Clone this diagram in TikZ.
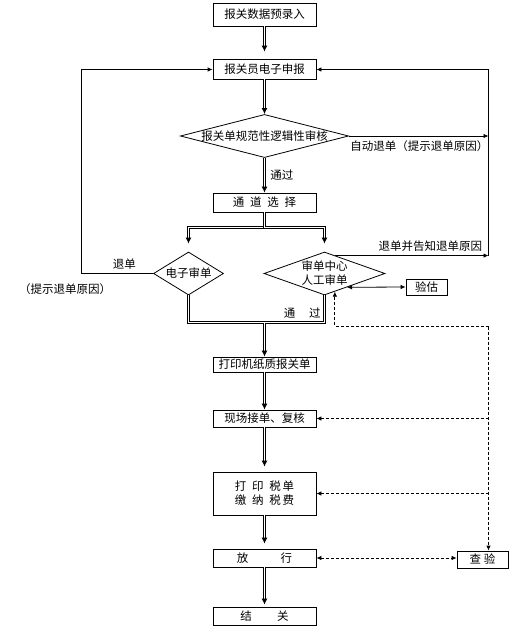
\documentclass[tikz,border=0pt]{standalone}
\usepackage{fontspec}
\newfontfamily\cjk{Noto Sans CJK SC}
\usetikzlibrary{arrows.meta,shapes.geometric,calc}

\begin{document}
\begin{tikzpicture}[x=1pt,y=-1pt,>={Latex[length=5pt,width=4.5pt]},
    every node/.style={font=\cjk\fontsize{11.5}{14}\selectfont},
    box/.style={draw,line width=0.8pt,minimum width=103pt,inner sep=0pt,align=center},
    dia/.style={draw,diamond,line width=0.8pt,inner sep=0pt,align=center},
    dbl/.style={double,line width=0.9pt,double distance=1.1pt},
    flow/.style={dbl,-{Latex[length=6pt,width=6pt]}},
    arr/.style={line width=0.8pt,->},
    dsh/.style={line width=0.8pt,dash pattern=on 3pt off 2pt,->}]
\useasboundingbox (0,0) rectangle (516,631);

% main column
\node[box,minimum height=23pt] (lr) at (264.5,14.5) {报关数据预录入};
\node[box,minimum height=20pt] (sb) at (264.5,69) {报关员电子申报};
\node[dia,aspect=3.9,minimum width=164pt,minimum height=42pt] (gf) at (264.5,136) {报关单规范性逻辑性审核};
\node[box,minimum height=19pt] (td) at (264.5,202.5) {通\enspace 道\enspace 选\enspace 择};
\node[dia,aspect=1.63,minimum width=70pt,minimum height=43pt] (dz) at (188.5,273.5) {电子审单};
\node[dia,aspect=2.8,minimum width=121pt,minimum height=43pt] (rg) at (324.5,273.5) {审单中心\\人工审单};
\node[draw,line width=0.8pt,minimum width=41pt,minimum height=16pt,inner sep=0pt] (yg) at (426.5,287) {验估};
\node[box,minimum height=15pt] (dy) at (264.5,364.5) {打印机纸质报关单};
\node[box,minimum height=17pt] (fh) at (264.5,418.5) {现场接单、复核};
\node[box,minimum height=43pt] (js) at (264.5,493.5) {打\enspace 印\enspace 税\,单\\缴\enspace 纳\enspace 税\,费};
\node[box,minimum height=18pt] (fx) at (264.5,558) {放\hspace{2.8em}行};
\node[box,minimum height=18pt] (jg) at (264.5,616) {结\hspace{2.2em}关};
\node[draw,line width=0.8pt,minimum width=51pt,minimum height=17pt,inner sep=0pt] (cy) at (482.5,559.5) {查\ 验};

% main flow
\draw[flow,shorten >=7pt] (lr) -- (sb);
\draw[flow] (sb) -- (gf);
\draw[flow] (gf) -- node[right,xshift=2pt]{通过} (td);
\coordinate (spl) at (264.5,227.5);
\draw[flow] (td.south) -- (spl) -| ($(dz.north)+(0,-8)$);
\draw[flow] (td.south) -- (spl) -| ($(rg.north)+(0,-8)$);
\coordinate (mrg) at (264.5,322.5);
\draw[dbl] (dz.south) |- (mrg) -- (mrg -| rg.south) node[above left]{通\hspace{1.2em}过} -- (rg.south);
\draw[flow] ($(mrg)+(0,0.6)$) -- (dy);
\draw[flow] (dy) -- (fh);
\draw[flow,shorten >=5pt] (fh) -- (js);
\draw[flow,shorten >=5pt] (js) -- (fx);
\draw[flow,shorten >=2pt] (fx) -- (jg);

% returns
\coordinate (lb) at (81.5,69.5);
\draw[arr] (dz.west) -| node[pos=0.2,above]{退单} (lb) -- (sb.west |- lb);
\node (tsyy) at (65,289) {（提示退单原因）};
\coordinate (rb) at (488.5,69.5);
\draw[arr] (gf.east) -- (gf.east -| rb);
\node[anchor=north east,inner sep=0pt] (zdtd) at ($(gf.east -| rb)+(0,4)$) {自动退单（提示退单原因）};
\coordinate (rtd) at ($(rg.north)!0.18!(rg.east)$);
\draw[arr] (rtd) -- node[above,pos=0.62]{退单并告知退单原因} (rtd -| rb);
\draw[arr] (rtd -| rb) -- (rb) -- (sb.east |- rb);
\draw[arr,<->] ($(rg.east)!0.63!(rg.south)$) -- (yg.west);

% inspection
\coordinate (dt) at (488.5,326.5);
\draw[dsh] (dt) -- (dt |- cy.north);
\draw[dsh] (dt) -| ($(rg.south)!0.17!(rg.east)$);
\draw[dsh] (dt |- fh.east) -- (fh.east);
\draw[dsh] (dt |- js.east) -- (js.east);
\draw[dsh,<->] (fx.east) -- (fx.east -| cy.west);
\end{tikzpicture}
\end{document}
